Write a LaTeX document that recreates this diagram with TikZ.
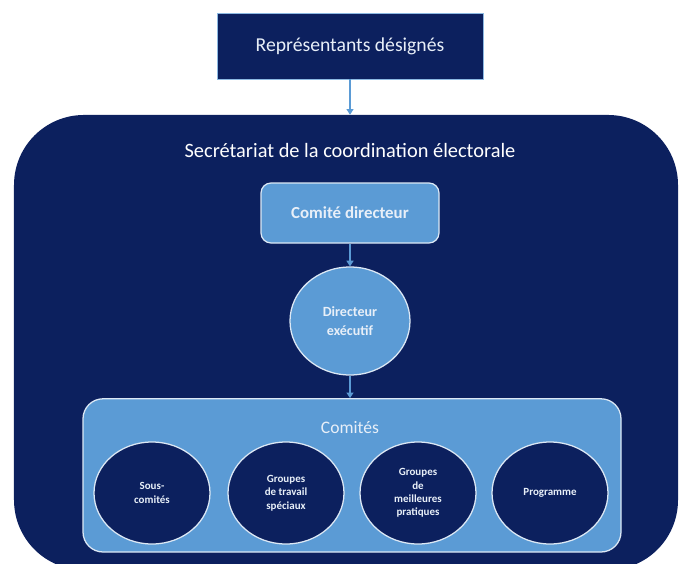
\documentclass[tikz,border=0pt]{standalone}
\usepackage{fontspec}
\setmainfont{Carlito}
\usetikzlibrary{shapes.geometric,arrows.meta}

\definecolor{navy}{RGB}{12,32,94}
\definecolor{skyblue}{RGB}{91,155,213}
\definecolor{paletext}{RGB}{232,239,248}
\definecolor{edgewhite}{RGB}{220,232,245}

\begin{document}
\begin{tikzpicture}[
		darkbox/.style={shape=rectangle, fill=navy, draw=skyblue!70!white, line width=0.4pt, text=paletext},
		lightbox/.style={shape=rectangle, rounded corners=0.25cm, fill=skyblue, draw=edgewhite, line width=0.9pt, text=paletext},
		lightoval/.style={shape=ellipse, fill=skyblue, draw=edgewhite, line width=0.9pt, text=paletext, align=center},
		darkoval/.style={shape=ellipse, fill=navy, draw=edgewhite, line width=0.9pt, text=paletext, align=center, font=\fontsize{7.8}{9.5}\selectfont\bfseries, minimum width=2.9cm, minimum height=2.55cm},
		link/.style={draw=skyblue, line width=0.8pt, -{Triangle[width=5pt,length=4pt]}}]
		\clip (0, 0) rectangle (17, 14.075);
		% Paths, nodes and wires:
		\node[darkbox, minimum width=6.65cm, minimum height=1.65cm, font=\fontsize{14}{16}\selectfont] (reps) at (8.75, 12.925){Représentants désignés};
		\node[shape=rectangle, rounded corners=1.75cm, fill=navy, minimum width=16.6cm, minimum height=11.375cm] (secretariat) at (8.65, 5.513){};
		\node[text=white, font=\fontsize{14.5}{17}\selectfont] (sectitle) at (8.75, 10.325){Secrétariat de la coordination électorale};
		\node[lightbox, minimum width=4.45cm, minimum height=1.5cm, font=\fontsize{12}{14}\selectfont\bfseries] (comdir) at (8.75, 8.75){Comité directeur};
		\node[lightoval, minimum width=3cm, minimum height=2.7cm, font=\fontsize{10}{13}\selectfont\bfseries] (direxec) at (8.75, 6.05){Directeur\\exécutif};
		\node[lightbox, rounded corners=0.5cm, minimum width=13.45cm, minimum height=3.83cm] (comites) at (8.8, 2.19){};
		\node[text=paletext, font=\fontsize{12.5}{14}\selectfont] (comtitle) at (8.75, 3.375){Comités};
		\node[darkoval] (souscom) at (3.8, 1.75){Sous-\\comités};
		\node[darkoval] (travail) at (7.15, 1.75){Groupes\\de travail\\spéciaux};
		\node[darkoval] (pratiques) at (10.45, 1.75){Groupes\\de\\meilleures\\pratiques};
		\node[darkoval] (programme) at (13.75, 1.75){Programme};
		\draw[link] (reps.south) -- (reps.south |- secretariat.north);
		\draw[link] (comdir.south) -- (direxec.north);
		\draw[link] (direxec.south) -- (direxec.south |- comites.north);
	\end{tikzpicture}
\end{document}
